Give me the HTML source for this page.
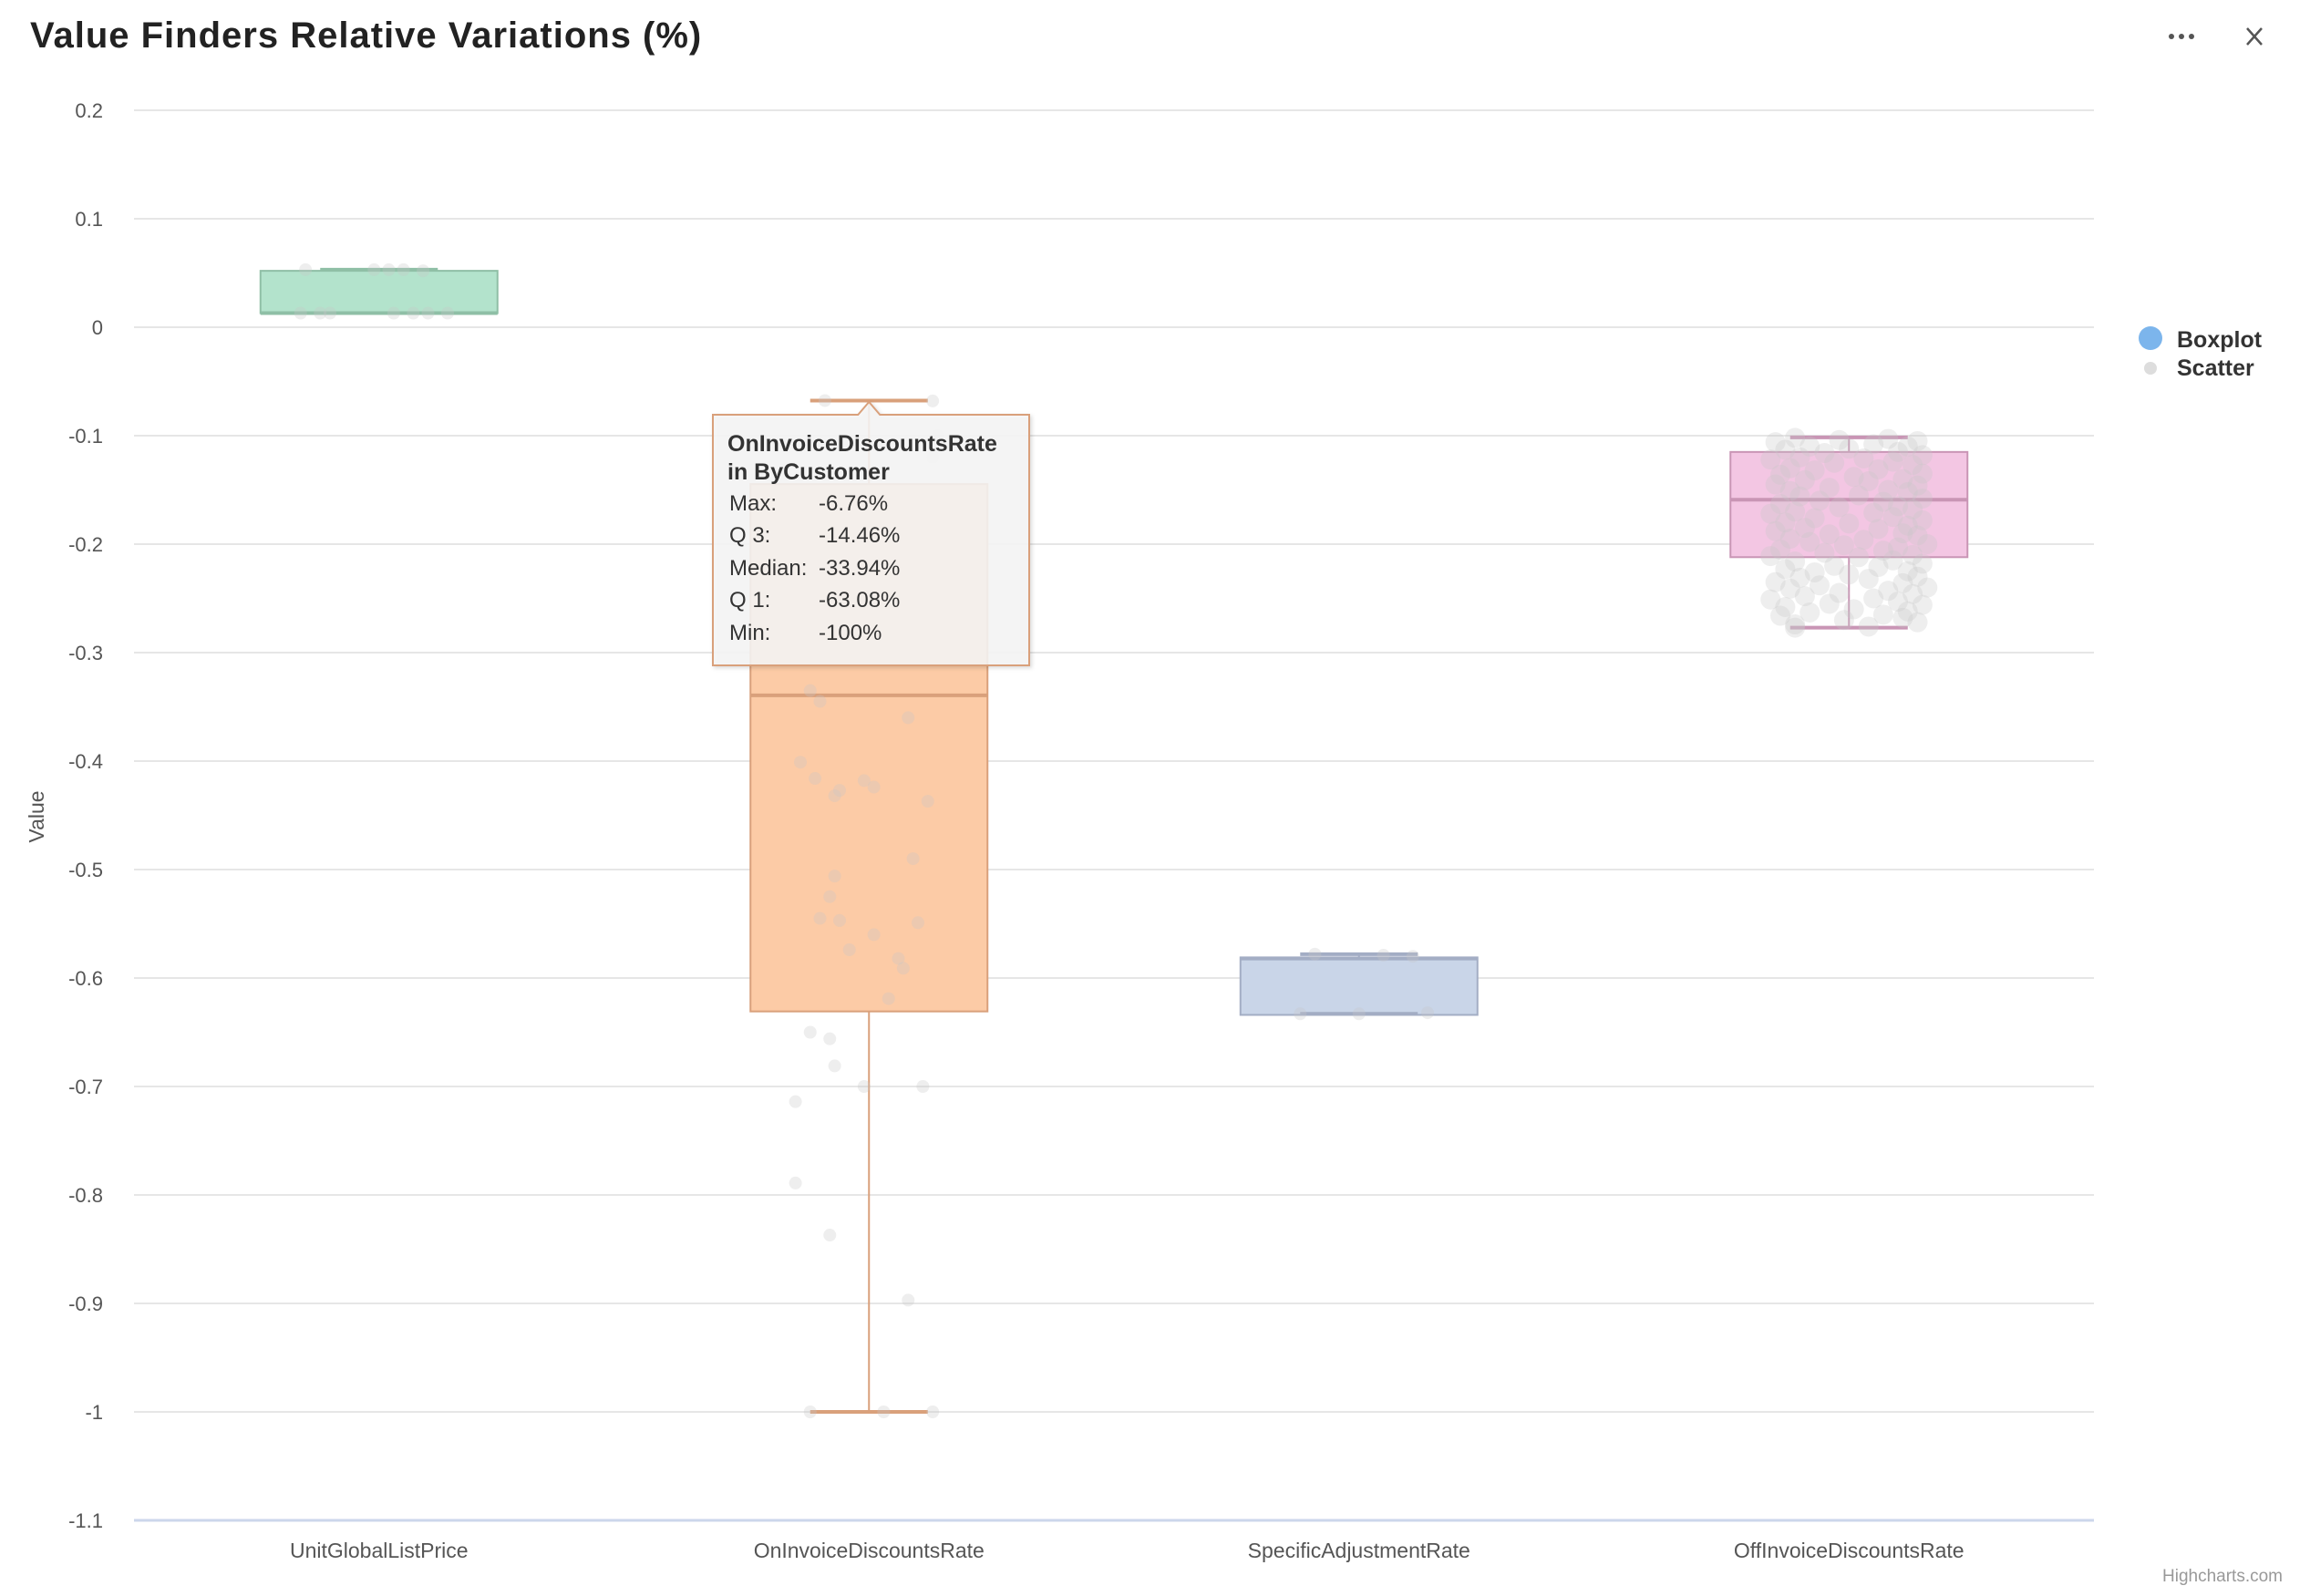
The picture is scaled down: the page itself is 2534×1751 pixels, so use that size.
<!DOCTYPE html>
<html><head><meta charset="utf-8"><style>
html,body{margin:0;padding:0;background:#fff;}
svg{display:block;font-family:"Liberation Sans",sans-serif;}
</style></head><body>
<svg id="chart" width="2534" height="1751" viewBox="0 0 2534 1751">
<text x="33" y="52" font-size="40" font-weight="bold" letter-spacing="1.0" fill="#222">Value Finders Relative Variations (%)</text>
<g><circle cx="2382" cy="40" r="3" fill="#555"/><circle cx="2393" cy="40" r="3" fill="#555"/><circle cx="2404" cy="40" r="3" fill="#555"/></g>
<g stroke="#555" stroke-width="2.5"><line x1="2465" y1="31" x2="2481" y2="49"/><line x1="2481" y1="31" x2="2465" y2="49"/></g>
<g id="grid"></g>
<g id="boxes"></g>
<g id="scatter"></g>
<text transform="translate(48,896) rotate(-90)" text-anchor="middle" font-size="23" fill="#555">Value</text>
<g>
<g><circle cx="2359" cy="371" r="13" fill="#7cb5ec"/><text x="2388" y="381" font-size="25" font-weight="bold" fill="#333">Boxplot</text></g>
<g><circle cx="2359" cy="404" r="7" fill="#ddd"/><text x="2388" y="412" font-size="25" font-weight="bold" fill="#333">Scatter</text></g>
</g>
<text x="2504" y="1735" text-anchor="end" font-size="19" fill="#999">Highcharts.com</text>
<g id="tooltip"></g>
</svg>
<script>
const categories=["UnitGlobalListPrice","OnInvoiceDiscountsRate","SpecificAdjustmentRate","OffInvoiceDiscountsRate"];
const maxVals=[0.053,-0.0676,-0.578,-0.1016];
const q3Vals=[0.052,-0.1446,-0.581,-0.115];
const medVals=[0.013,-0.3394,-0.582,-0.159];
const q1Vals=[0.013,-0.6308,-0.634,-0.212];
const minVals=[0.013,-1.0,-0.633,-0.277];
const yTicks=[0.2,0.1,0,-0.1,-0.2,-0.3,-0.4,-0.5,-0.6,-0.7,-0.8,-0.9,-1,-1.1];
const yTickLabels=["0.2","0.1","0","-0.1","-0.2","-0.3","-0.4","-0.5","-0.6","-0.7","-0.8","-0.9","-1","-1.1"];
const fills=["#b3e3cc","#fccba6","#c9d5e8","#f3c6e3"];
const strokes=["#8fbfa6","#d9a07b","#a3adc4","#c995b5"];
// scatter values and jitter (fraction of category width) per category
const sc0Val=[0.053,0.053,0.053,0.053,0.052,0.013,0.013,0.013,0.013,0.013,0.013,0.013];
const sc0Jit=[-0.15,-0.01,0.02,0.05,0.09,-0.16,-0.12,-0.1,0.03,0.07,0.1,0.14];
const sc1Val=[-0.0676,-0.068,-0.1,-0.12,-0.335,-0.345,-0.401,-0.416,-0.418,-0.427,-0.432,-0.424,-0.437,-0.49,-0.506,-0.525,-0.545,-0.547,-0.549,-0.56,-0.574,-0.582,-0.591,-0.619,-0.65,-0.656,-0.681,-0.7,-0.7,-0.714,-0.789,-0.837,-0.897,-1,-1,-1,-0.36];
const sc1Jit=[-0.09,0.13,0.14,0.13,-0.12,-0.1,-0.14,-0.11,-0.01,-0.06,-0.07,0.01,0.12,0.09,-0.07,-0.08,-0.1,-0.06,0.1,0.01,-0.04,0.06,0.07,0.04,-0.12,-0.08,-0.07,-0.01,0.11,-0.15,-0.15,-0.08,0.08,-0.12,0.03,0.13,0.08];
const sc2Val=[-0.578,-0.579,-0.58,-0.633,-0.633,-0.632];
const sc2Jit=[-0.09,0.05,0.11,-0.12,0.0,0.14];
const sc3Val=[-0.102,-0.103,-0.104,-0.105,-0.106,-0.108,-0.11,-0.11,-0.112,-0.113,-0.115,-0.116,-0.118,-0.12,-0.121,-0.122,-0.124,-0.125,-0.127,-0.13,-0.131,-0.132,-0.135,-0.136,-0.138,-0.14,-0.141,-0.142,-0.145,-0.146,-0.148,-0.15,-0.151,-0.152,-0.155,-0.156,-0.158,-0.16,-0.161,-0.163,-0.165,-0.166,-0.168,-0.17,-0.171,-0.172,-0.175,-0.176,-0.178,-0.18,-0.181,-0.183,-0.185,-0.186,-0.188,-0.19,-0.191,-0.192,-0.195,-0.196,-0.198,-0.2,-0.201,-0.203,-0.205,-0.206,-0.208,-0.21,-0.211,-0.212,-0.215,-0.216,-0.218,-0.22,-0.221,-0.223,-0.225,-0.226,-0.228,-0.23,-0.231,-0.232,-0.235,-0.236,-0.238,-0.24,-0.241,-0.243,-0.245,-0.246,-0.248,-0.25,-0.251,-0.253,-0.255,-0.256,-0.258,-0.26,-0.262,-0.263,-0.265,-0.266,-0.268,-0.27,-0.272,-0.274,-0.276,-0.277];
const sc3Jit=[-0.11,0.08,-0.02,0.14,-0.15,0.05,-0.08,0.12,0.0,-0.13,0.1,-0.05,0.15,-0.1,0.03,-0.16,0.09,-0.03,0.13,-0.12,0.06,-0.07,0.15,-0.14,0.01,0.11,-0.09,0.04,-0.15,0.14,-0.04,0.08,-0.12,0.12,0.02,-0.1,0.15,-0.06,0.07,-0.14,0.1,-0.02,0.13,-0.11,0.05,-0.16,0.09,-0.07,0.15,-0.13,0.0,0.12,-0.09,0.06,-0.15,0.11,-0.04,0.14,-0.12,0.03,-0.08,0.16,-0.01,0.1,-0.14,0.07,-0.05,0.13,-0.16,0.02,0.09,-0.11,0.15,-0.03,0.06,-0.13,0.12,-0.07,0.0,0.14,-0.1,0.04,-0.15,0.11,-0.06,0.16,-0.12,0.08,-0.02,0.13,-0.09,0.05,-0.16,0.1,-0.04,0.15,-0.13,0.01,0.12,-0.08,0.07,-0.14,0.11,-0.01,0.14,-0.11,0.04];
const scVals=[sc0Val,sc1Val,sc2Val,sc3Val];
const scJits=[sc0Jit,sc1Jit,sc2Jit,sc3Jit];

const NS="http://www.w3.org/2000/svg";
const plotL=147,plotR=2297,yTop=121,yBot=1668,vTop=0.2,vBot=-1.1;
const catW=(plotR-plotL)/categories.length;
function yPos(v){return yTop+(vTop-v)/(vTop-vBot)*(yBot-yTop);}
function xPos(i){return plotL+catW*(i+0.5);}
function mk(tag,attrs,parent){const e=document.createElementNS(NS,tag);for(const k in attrs)e.setAttribute(k,attrs[k]);parent.appendChild(e);return e;}

const grid=document.getElementById('grid');
yTicks.forEach((t,i)=>{
  const y=yPos(t);
  const last=i===yTicks.length-1;
  const ln=mk('line',{x1:plotL,x2:plotR,y1:y,y2:y,stroke:last?"#ccd6eb":"#e6e6e6","stroke-width":last?3:2},grid);
  
  
  const tx=mk('text',{x:113,y:y+8,"text-anchor":"end","font-size":22,fill:"#555"},grid);
  tx.textContent=yTickLabels[i];
  
  
});
categories.forEach((c,i)=>{
  const tx=mk('text',{x:xPos(i),y:yBot+41,"text-anchor":"middle","font-size":23,fill:"#555"},grid);
  tx.textContent=c;
  
  
});

const bx=document.getElementById('boxes');
const boxW=260,whW=129;
categories.forEach((c,i)=>{
  const g=mk('g',{},bx);
  
  
  const cx=xPos(i);
  const yq3=yPos(q3Vals[i]),yq1=yPos(q1Vals[i]);
  mk('line',{x1:cx,x2:cx,y1:yPos(maxVals[i]),y2:yq3,stroke:strokes[i],"stroke-width":2},g);
  mk('line',{x1:cx,x2:cx,y1:yq1,y2:yPos(minVals[i]),stroke:strokes[i],"stroke-width":2},g);
  mk('rect',{x:cx-boxW/2,y:yq3,width:boxW,height:Math.max(1,yq1-yq3),fill:fills[i],stroke:strokes[i],"stroke-width":2},g);
  mk('line',{x1:cx-boxW/2,x2:cx+boxW/2,y1:yPos(medVals[i]),y2:yPos(medVals[i]),stroke:strokes[i],"stroke-width":4},g);
  mk('line',{x1:cx-whW/2,x2:cx+whW/2,y1:yPos(maxVals[i]),y2:yPos(maxVals[i]),stroke:strokes[i],"stroke-width":4},g);
  mk('line',{x1:cx-whW/2,x2:cx+whW/2,y1:yPos(minVals[i]),y2:yPos(minVals[i]),stroke:strokes[i],"stroke-width":4},g);
});

const sc=document.getElementById('scatter');
scVals.forEach((vals,ci)=>{
  const jits=scJits[ci];
  vals.forEach((v,k)=>{
    const j=jits[k%jits.length];
    const c=mk('circle',{cx:xPos(ci)+j*catW,cy:yPos(v),r:ci===3?11:7,fill:"#c8c8c8","fill-opacity":0.3},sc);
    
    
  });
});

// tooltip for OnInvoiceDiscountsRate
const tt=document.getElementById('tooltip');
const tcx=xPos(1),tTop=455;
mk('path',{d:`M782 ${tTop} H${tcx-12} L${tcx} ${tTop-14} L${tcx+12} ${tTop} H1129 V730 H782 Z`,fill:"#f7f7f7","fill-opacity":0.88,stroke:"#d9a07b","stroke-width":2,filter:"drop-shadow(2px 2px 2px rgba(0,0,0,0.15))"},tt);
const tLines=[["OnInvoiceDiscountsRate",""],["in ByCustomer",""],["Max:","-6.76%"],["Q 3:","-14.46%"],["Median:","-33.94%"],["Q 1:","-63.08%"],["Min:","-100%"]];
const tY=[495,526,560,595,631,666,702];
tLines.forEach((l,k)=>{
  const a=mk('text',{x:k<2?798:800,y:tY[k],"font-size":k<2?25:24,"font-weight":k<2?"bold":"normal",fill:"#333"},tt);
  a.textContent=l[0];
  
  
  if(l[1]){const b=mk('text',{x:898,y:tY[k],"font-size":24,fill:"#333"},tt);b.textContent=l[1];
  
  }
});
</script>
</body></html>
